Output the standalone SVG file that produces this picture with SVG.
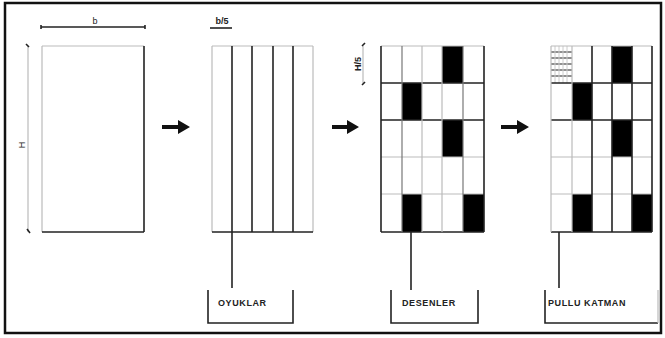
<svg xmlns="http://www.w3.org/2000/svg" width="665" height="338" viewBox="0 0 665 338">
<style>
.dk{stroke:#222;stroke-width:1.6;fill:none}
.lt{stroke:#bbb;stroke-width:1.2;fill:none}
.md{stroke:#777;stroke-width:1.2;fill:none}
.blk{fill:#000}
.lbl{font-family:"Liberation Sans",Arial,sans-serif;font-weight:bold;font-size:9px;fill:#222;letter-spacing:0.6px}
.dim{font-family:"Liberation Sans",Arial,sans-serif;font-size:9px;fill:#222}
.arr{fill:#111}
</style>
<rect x="5" y="3" width="656" height="330" fill="#fff" stroke="#111" stroke-width="2.5"/>

<g id="rect-b-h">
  <line class="lt" x1="42" y1="46" x2="144" y2="46"/>
  <line class="lt" x1="42" y1="46" x2="42" y2="232"/>
  <line class="dk" x1="144" y1="46" x2="144" y2="232"/>
  <line class="dk" x1="42" y1="232" x2="144" y2="232"/>
  <line class="dk" x1="41" y1="27" x2="145" y2="27"/>
  <line class="dk" x1="41" y1="25" x2="41" y2="29"/>
  <line class="dk" x1="145" y1="25" x2="145" y2="29"/>
  <text class="dim" x="95" y="24" text-anchor="middle">b</text>
  <line class="lt" x1="28" y1="46" x2="28" y2="232"/>
  <line class="dk" x1="26" y1="44" x2="29" y2="47"/>
  <line class="dk" x1="27" y1="229" x2="30" y2="233"/>
  <text class="dim" x="25" y="145" text-anchor="middle" transform="rotate(-90 25 145)">H</text>
</g>

<g id="oyuklar-grid">
  <line class="lt" x1="212" y1="46" x2="313" y2="46"/>
  <line class="lt" x1="212" y1="46" x2="212" y2="232"/>
  <line class="lt" x1="313" y1="46" x2="313" y2="232"/>
  <line class="dk" x1="232" y1="46" x2="232" y2="232"/>
  <line class="dk" x1="252" y1="46" x2="252" y2="232"/>
  <line class="dk" x1="273" y1="46" x2="273" y2="232"/>
  <line class="dk" x1="293" y1="46" x2="293" y2="232"/>
  <line class="dk" x1="212" y1="232" x2="313" y2="232"/>
  <text class="dim" x="222" y="24" text-anchor="middle" font-weight="bold">b/5</text>
  <line class="dk" x1="210" y1="28" x2="232" y2="28"/>
</g>

<g id="desenler-grid">
  <rect class="blk" x="442" y="46" width="21" height="37"/>
  <rect class="blk" x="402" y="83" width="20" height="37"/>
  <rect class="blk" x="442" y="120" width="21" height="37"/>
  <rect class="blk" x="402" y="194" width="20" height="38"/>
  <rect class="blk" x="463" y="194" width="21" height="38"/>
  <line class="lt" x1="381" y1="46" x2="484" y2="46"/>
  <line class="dk" x1="381" y1="83" x2="484" y2="83"/>
  <line class="dk" x1="381" y1="120" x2="484" y2="120"/>
  <line class="lt" x1="381" y1="157" x2="484" y2="157"/>
  <line class="lt" x1="381" y1="194" x2="484" y2="194"/>
  <line class="dk" x1="381" y1="232" x2="484" y2="232"/>
  <line class="dk" x1="381" y1="46" x2="381" y2="232"/>
  <line class="dk" x1="484" y1="46" x2="484" y2="232"/>
  <line class="md" x1="402" y1="46" x2="402" y2="232"/>
  <line class="lt" x1="422" y1="46" x2="422" y2="232"/>
  <line class="lt" x1="442" y1="46" x2="442" y2="232"/>
  <line class="md" x1="463" y1="46" x2="463" y2="232"/>
  <line class="lt" x1="363" y1="46" x2="363" y2="83"/>
  <line class="dk" x1="362" y1="46" x2="365" y2="43"/>
  <line class="dk" x1="362" y1="85" x2="365" y2="82"/>
  <text class="dim" x="361" y="64" text-anchor="middle" font-weight="bold" transform="rotate(-90 361 64)">H/5</text>
</g>

<g id="pullu-grid">
  <rect class="blk" x="612" y="46" width="20" height="37"/>
  <rect class="blk" x="572" y="83" width="20" height="37"/>
  <rect class="blk" x="612" y="120" width="20" height="37"/>
  <rect class="blk" x="572" y="194" width="20" height="38"/>
  <rect class="blk" x="632" y="194" width="20" height="38"/>
  <g stroke="#333" stroke-width="1.1">
    <line x1="551" y1="52" x2="572" y2="52"/>
    <line x1="551" y1="58" x2="572" y2="58"/>
    <line x1="551" y1="64" x2="572" y2="64"/>
    <line x1="551" y1="70" x2="572" y2="70"/>
    <line x1="551" y1="76" x2="572" y2="76"/>
  </g>
  <g stroke="#ccc" stroke-width="1">
    <line x1="555" y1="46" x2="555" y2="83"/>
    <line x1="559" y1="46" x2="559" y2="83"/>
    <line x1="563" y1="46" x2="563" y2="83"/>
    <line x1="567" y1="46" x2="567" y2="83"/>
  </g>
  <line class="lt" x1="551" y1="46" x2="652" y2="46"/>
  <line class="dk" x1="551" y1="83" x2="652" y2="83"/>
  <line class="dk" x1="551" y1="120" x2="652" y2="120"/>
  <line class="lt" x1="551" y1="157" x2="652" y2="157"/>
  <line class="lt" x1="551" y1="194" x2="652" y2="194"/>
  <line class="dk" x1="551" y1="232" x2="652" y2="232"/>
  <line class="lt" x1="551" y1="46" x2="551" y2="232"/>
  <line class="lt" x1="572" y1="46" x2="572" y2="232"/>
  <line class="dk" x1="592" y1="46" x2="592" y2="232"/>
  <line class="dk" x1="612" y1="46" x2="612" y2="232"/>
  <line class="dk" x1="632" y1="46" x2="632" y2="232"/>
  <line class="dk" x1="652" y1="46" x2="652" y2="232"/>
</g>

<g id="label-oyuklar">
  <path class="dk" d="M208 290 V323 H293 V290"/>
  <text class="lbl" x="218" y="306">OYUKLAR</text>
</g>
<g id="label-desenler">
  <path class="dk" d="M391 290 V323 H478 V290"/>
  <text class="lbl" x="402" y="306">DESENLER</text>
</g>
<g id="label-pullu">
  <path class="dk" d="M545 290 V323 H658"/>
  <line class="lt" x1="658" y1="290" x2="658" y2="323"/>
  <text class="lbl" x="548" y="306">PULLU KATMAN</text>
</g>

<g id="connectors">
  <line class="dk" x1="232" y1="232" x2="232" y2="288"/>
  <line class="dk" x1="411" y1="232" x2="411" y2="290"/>
  <line class="dk" x1="559" y1="232" x2="559" y2="288"/>
  <path class="arr" d="M162 125 H178 V120 L190 127 L178 134 V129 H162 Z"/>
  <path class="arr" d="M332 125 H347 V120 L359 127 L347 134 V129 H332 Z"/>
  <path class="arr" d="M501 125 H517 V120 L529 127 L517 134 V129 H501 Z"/>
</g>
</svg>
